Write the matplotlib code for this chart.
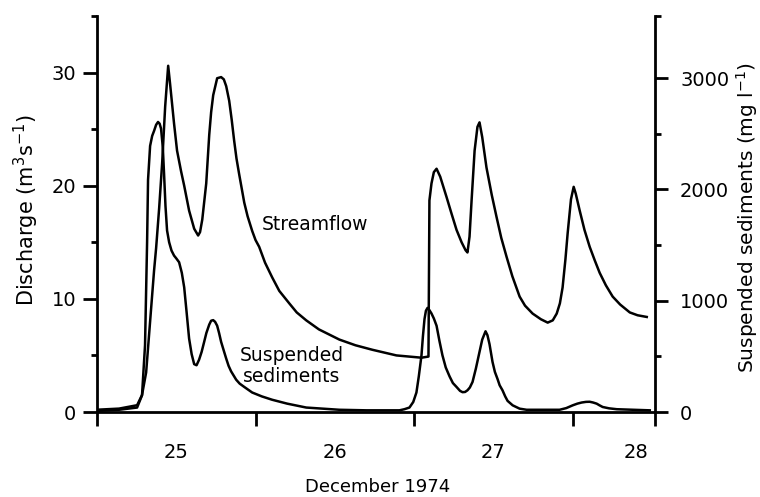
import matplotlib
matplotlib.use("Agg")
import matplotlib.pyplot as plt

plt.rcParams['font.family'] = ['DejaVu Sans']

# Streamflow (discharge, m3/s) vs time (day of December 1974)
flow_t = [24.500, 24.639, 24.753, 24.784, 24.810, 24.835, 24.860, 24.873, 24.892, 24.911,
          24.930, 24.949, 24.961, 24.986, 25.005, 25.030, 25.050, 25.081, 25.113, 25.138,
          25.150, 25.164, 25.189, 25.208, 25.220, 25.233, 25.258, 25.283, 25.300, 25.315,
          25.334, 25.350, 25.365, 25.380, 25.397, 25.429, 25.450, 25.479, 25.500, 25.523,
          25.560, 25.605, 25.650, 25.713, 25.760, 25.820, 25.900, 26.029, 26.130, 26.237,
          26.389, 26.547, 26.591,
          26.597, 26.610, 26.625, 26.642, 26.665, 26.705, 26.735, 26.768, 26.800, 26.825,
          26.837, 26.850, 26.863, 26.882, 26.900, 26.913, 26.930, 26.957, 26.990, 27.021,
          27.050, 27.084, 27.120, 27.166, 27.200, 27.248, 27.300, 27.343, 27.375, 27.400,
          27.420, 27.437, 27.455, 27.469, 27.490, 27.507, 27.520, 27.545, 27.575, 27.608,
          27.640, 27.671, 27.710, 27.753, 27.800, 27.861, 27.910, 27.968]
flow_q = [0.2, 0.3, 0.6, 1.5, 3.5, 8.0, 12.5, 14.5, 18.0, 22.0,
          27.0, 30.6, 29.0, 25.5, 23.1, 21.3, 20.0, 17.8, 16.2, 15.6,
          15.9, 17.0, 20.2, 24.5, 26.5, 28.0, 29.5, 29.6, 29.4, 28.8,
          27.5, 25.8, 24.0, 22.4, 21.0, 18.5, 17.3, 16.0, 15.2, 14.6,
          13.2, 11.9, 10.7, 9.6, 8.8, 8.1, 7.3, 6.4, 5.9, 5.5,
          5.0, 4.8, 4.9,
          18.7, 20.2, 21.2, 21.5, 20.8, 19.0, 17.6, 16.1, 15.0, 14.3,
          14.1, 15.5, 18.7, 23.1, 25.2, 25.6, 24.3, 21.6, 19.2, 17.2,
          15.4, 13.7, 12.0, 10.2, 9.4, 8.7, 8.2, 7.9, 8.1, 8.7,
          9.6, 11.0, 13.5, 15.8, 18.8, 19.9, 19.3, 17.8, 16.1, 14.6,
          13.4, 12.3, 11.2, 10.2, 9.5, 8.8, 8.55, 8.4]

# Suspended sediments (mg/l)
sed_t = [24.500, 24.639, 24.753, 24.784, 24.803, 24.816, 24.822, 24.835, 24.848, 24.860,
         24.873, 24.885, 24.895, 24.904, 24.915, 24.923, 24.932, 24.942, 24.955, 24.970,
         24.986, 25.000, 25.018, 25.035, 25.050, 25.065, 25.081, 25.097, 25.113, 25.128,
         25.144, 25.160, 25.176, 25.190, 25.208, 25.220, 25.233, 25.245, 25.258, 25.270,
         25.283, 25.300, 25.315, 25.330, 25.346, 25.378, 25.400, 25.429, 25.479, 25.540,
         25.605, 25.700, 25.820, 26.029, 26.200, 26.408,
         26.439, 26.471, 26.495, 26.515, 26.530, 26.547, 26.556, 26.566, 26.575, 26.585,
         26.597, 26.610, 26.625, 26.642, 26.660, 26.679, 26.700, 26.724, 26.745, 26.768,
         26.790, 26.806, 26.822, 26.837, 26.852, 26.869, 26.890, 26.913, 26.930, 26.951,
         26.963, 26.976, 26.995, 27.010, 27.027, 27.040, 27.058, 27.075, 27.090, 27.122,
         27.166, 27.210, 27.418, 27.460, 27.501, 27.530, 27.557, 27.585, 27.608, 27.630,
         27.652, 27.670, 27.690, 27.730, 27.779, 27.987]
sed_c = [10, 20, 40, 150, 600, 1525, 2085, 2390, 2480, 2525,
         2580, 2605, 2590, 2545, 2380, 2140, 1850, 1630, 1525, 1450,
         1405, 1380, 1345, 1250, 1120, 900, 660, 520, 430, 420,
         470, 540, 630, 710, 785, 820, 825, 810, 775, 710,
         630, 550, 480, 415, 365, 290, 255, 225, 175, 140,
         110, 75, 40, 20, 15, 15,
         25, 40, 90, 175, 320, 510, 680, 835, 910, 935,
         915, 885, 840, 775, 640, 510, 400, 320, 260, 225,
         190, 178, 180, 195, 220, 270, 390, 540, 650, 725,
         690, 610, 450, 360, 295, 240, 195, 140, 100, 60,
         30, 20, 20, 35, 60, 75, 85, 91, 92, 85,
         75, 60, 45, 33, 25, 15]

x_ticks = [25, 26, 27, 27.9]
x_labels = ["25", "26", "27", "28"]
day_bounds = [24.5, 25.5, 26.5, 27.5, 28.02]
q_ticks = [0, 10, 20, 30]
q_minor = [5, 15, 25, 35]
s_ticks = [0, 1000, 2000, 3000]
s_minor = [500, 1500, 2500, 3557]

fig = plt.figure(figsize=(7.6, 4.97), dpi=100)
ax = fig.add_axes([97/760, 1-412/497, (655-97)/760, 396/497])
ax2 = ax.twinx()
ax2.set_position(ax.get_position())

lw = 1.8
ax.plot(flow_t, flow_q, color='black', lw=lw, solid_joinstyle='round')
ax2.plot(sed_t, sed_c, color='black', lw=lw, solid_joinstyle='round')

ax.set_xlim(24.5, 28.02)
ax.set_ylim(0, 35)
ax2.set_ylim(0, 3557)

for a in (ax, ax2):
    a.spines['top'].set_visible(False)
    for s in a.spines.values():
        s.set_linewidth(2.0)
ax.spines['right'].set_visible(False)
ax2.spines['left'].set_visible(False)
ax2.spines['bottom'].set_visible(False)

ax.set_xticks(x_ticks)
ax.set_xticklabels(x_labels)
ax.set_xticks(day_bounds, minor=True)
ax.tick_params(axis='x', which='major', length=0, pad=22, labelsize=14)
ax.tick_params(axis='x', which='minor', length=10, width=2, direction='out')

ax.set_yticks(q_ticks)
ax.set_yticks(q_minor, minor=True)
ax.tick_params(axis='y', which='major', length=10, width=2, pad=5, labelsize=14)
ax.tick_params(axis='y', which='minor', length=4, width=2)

ax2.set_yticks(s_ticks)
ax2.set_yticks(s_minor, minor=True)
ax2.tick_params(axis='y', which='major', length=9, width=2, pad=9, labelsize=14)
ax2.tick_params(axis='y', which='minor', length=4, width=2)

ax.text(25.877, 16.6, "Streamflow", fontsize=13.5, ha='center', va='center')
ax.text(25.726, 4.07, "Suspended\nsediments", fontsize=13.5, ha='center', va='center',
        linespacing=1.1)

fig.text(26/760, 1-210/497, "Discharge (m$^{3}$s$^{-1}$)", rotation=90,
         ha='center', va='center', fontsize=15)
fig.text(747/760, 1-218/497, "Suspended sediments (mg l$^{-1}$)", rotation=90,
         ha='center', va='center', fontsize=14.5)
fig.text(378/760, 1-487/497, "December 1974", ha='center', va='center', fontsize=13)

fig.savefig("out.png", dpi=100, facecolor='white')
